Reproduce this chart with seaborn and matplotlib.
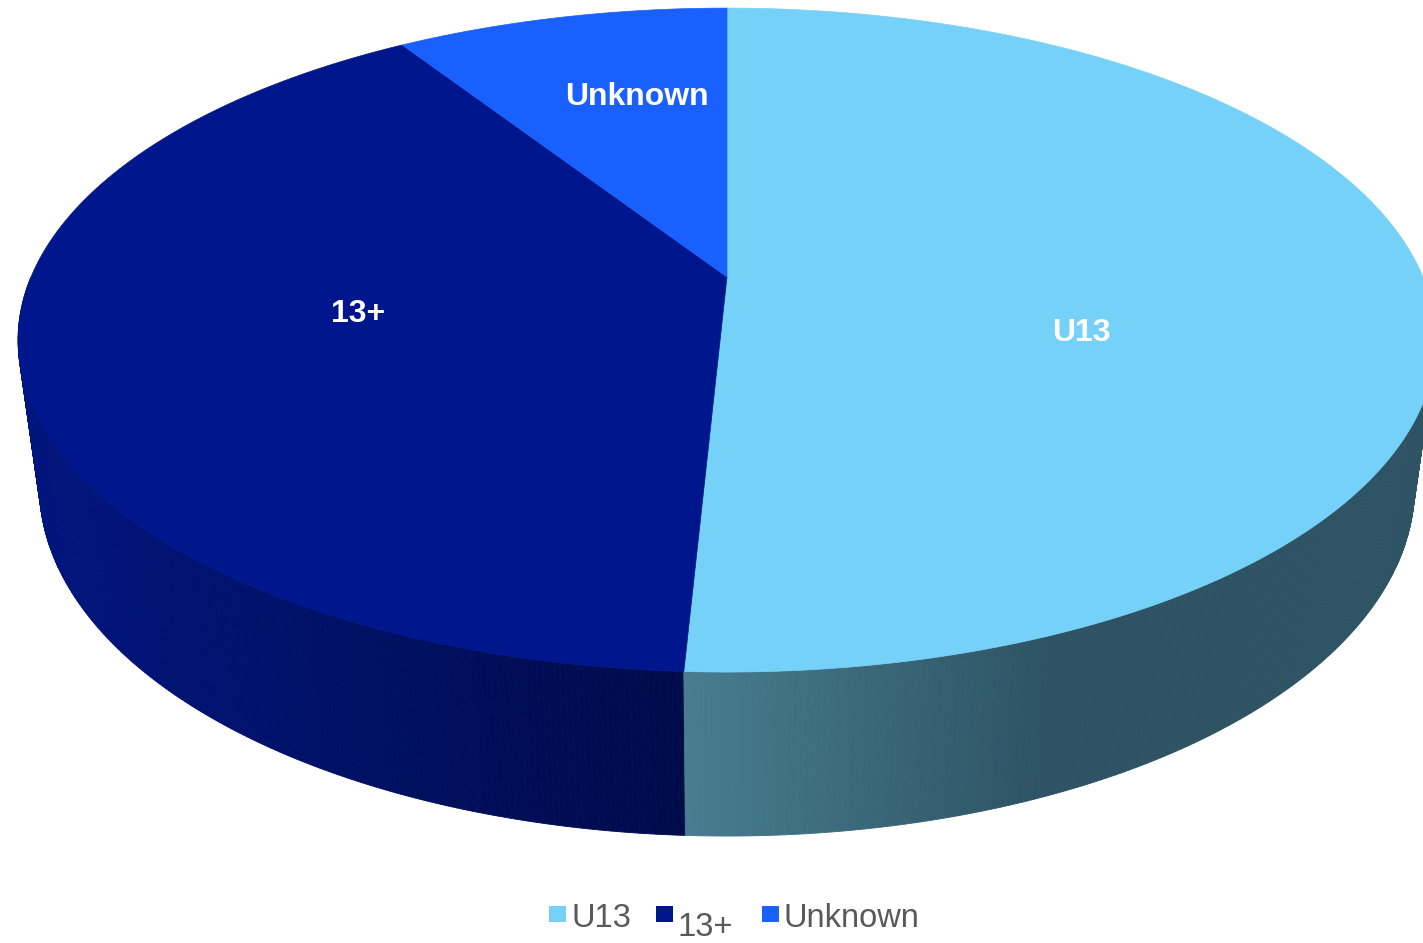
import numpy as np
import matplotlib
matplotlib.use("Agg")
import matplotlib.pyplot as plt
from matplotlib.patches import Polygon, Rectangle
from matplotlib.colors import to_rgb
import seaborn as sns

# Share of players by age group
categories = ["U13", "13+", "Unknown"]
shares = [50.8, 40.1, 9.1]
top_colors = ["#76D1F8", "#00168C", "#1A60FF"]

sns.set_theme(style="white")
plt.rcParams["font.family"] = ["Liberation Sans", "DejaVu Sans"]

W, H = 1423, 943
fig = plt.figure(figsize=(W / 100, H / 100), dpi=100)
ax = fig.add_axes([0, 0, 1, 1])
ax.set_xlim(0, W)
ax.set_ylim(H, 0)
ax.axis("off")

# Perspective view of a disc: centre, radii and tilt of the projection
CX, CY = 727.0, 277.0
RX, RZ = 696.0, 320.0
TILT = 0.19          # foreshortening along the depth axis
SHRINK = 0.03        # bottom face lies further from the camera
DROP = 149.6         # thickness of the disc


def project(theta, r=1.0, bottom=False):
    x3 = r * np.sin(theta)
    z3 = r * np.cos(theta)
    w = 1.0 + TILT * z3 + (SHRINK if bottom else 0.0)
    x = CX + RX * x3 / w
    y = CY + (-RZ * z3 + (DROP if bottom else 0.0)) / w
    return x, y


# Slice boundaries, clockwise from twelve o'clock
fracs = np.array(shares) / np.sum(shares)
bounds = np.concatenate([[0.0], np.cumsum(fracs)]) * 2 * np.pi

# Side wall shading, varying across the width of the wall
side_ramps = {
    "U13": [(685, "#477D8F"), (1050, "#2D5364"), (1500, "#2D5364")],
    "13+": [(0, "#00157F"), (685, "#000B4A")],
    "Unknown": [(0, "#0E3FB0"), (1500, "#0E3FB0")],
}


def ramp_color(name, x):
    stops = side_ramps[name]
    xs = [s[0] for s in stops]
    cols = np.array([to_rgb(s[1]) for s in stops])
    return tuple(np.interp(x, xs, cols[:, i]) for i in range(3))


# Front wall strips (far to near so nearer strips overlap the rest)
strips = []
step = np.radians(0.4)
for name, a0, a1 in zip(categories, bounds[:-1], bounds[1:]):
    lo, hi = max(a0, np.pi / 2), min(a1, 1.5 * np.pi)
    if hi <= lo:
        continue
    edges = np.arange(lo, hi, step)
    edges = np.append(edges, hi)
    for t0, t1 in zip(edges[:-1], edges[1:]):
        xt0, yt0 = project(t0)
        xt1, yt1 = project(t1)
        xb1, yb1 = project(t1, bottom=True)
        xb0, yb0 = project(t0, bottom=True)
        col = ramp_color(name, 0.5 * (xt0 + xt1))
        depth = np.cos(0.5 * (t0 + t1))
        strips.append((depth, [(xt0, yt0), (xt1, yt1), (xb1, yb1), (xb0, yb0)], col))

for depth, pts, col in sorted(strips, key=lambda s: -s[0]):
    ax.add_patch(Polygon(pts, closed=True, facecolor=col, edgecolor=col, lw=0.6))

# Top faces of the slices
for name, col, a0, a1 in zip(categories, top_colors, bounds[:-1], bounds[1:]):
    t = np.linspace(a0, a1, 300)
    xs, ys = project(t)
    pts = [(CX, CY)] + list(zip(xs, ys))
    ax.add_patch(Polygon(pts, closed=True, facecolor=col, edgecolor=col, lw=0.5))

# Data labels on the slices
label_xy = {"U13": (1081, 333), "13+": (358, 314), "Unknown": (637, 97)}
for name in categories:
    x, y = label_xy[name]
    ax.text(x, y, name, color="white", fontsize=23, fontweight="bold",
            ha="center", va="center")

# Legend along the bottom
legend_items = {"U13": (549, 927), "13+": (656, 936), "Unknown": (762, 927)}
for name, col in zip(categories, top_colors):
    sx, base = legend_items[name]
    ax.add_patch(Rectangle((sx, 906), 17, 16, facecolor=col, edgecolor="none"))
    ax.text(sx + 22, base, name, color="#595959", fontsize=23.5,
            ha="left", va="baseline")

fig.savefig("out.png", dpi=100)
